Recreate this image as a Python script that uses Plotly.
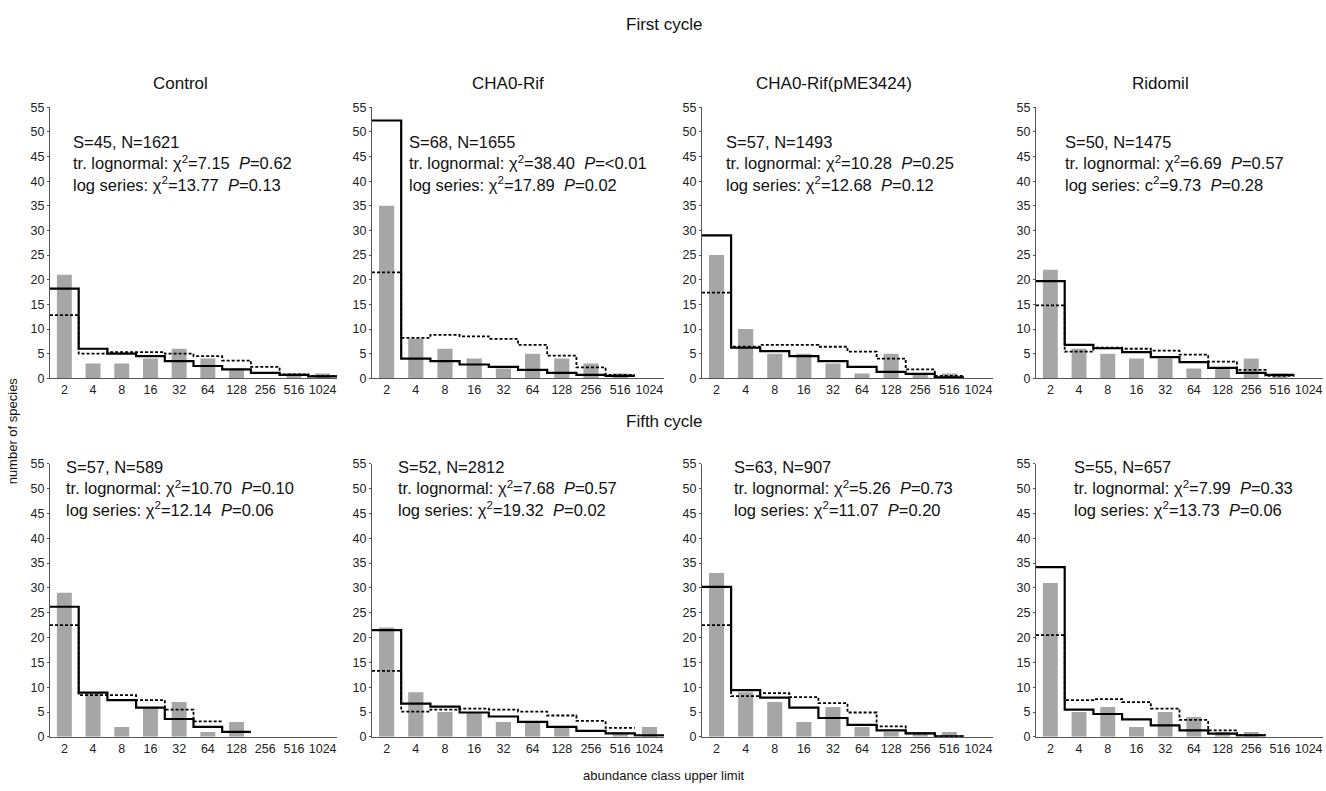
import plotly.graph_objects as go

W, H = 1326, 791

categories = ["2", "4", "8", "16", "32", "64", "128", "256", "516", "1024"]
treatments = ["Control", "CHA0-Rif", "CHA0-Rif(pME3424)", "Ridomil"]

# observed number of species per abundance class (grey bars)
obs_control_1 = [21, 3, 3, 4, 6, 4, 2, 0, 1, 1]
obs_cha0_1 = [35, 8, 6, 4, 2, 5, 4, 3, 1, 0]
obs_pme_1 = [25, 10, 5, 5, 3, 1, 5, 1, 1, 0]
obs_ridomil_1 = [22, 6, 5, 4, 4, 2, 2, 4, 1, 0]
obs_control_5 = [29, 9, 2, 6, 7, 1, 3, 0, 0, 0]
obs_cha0_5 = [22, 9, 5, 5, 3, 3, 2, 0, 1, 2]
obs_pme_5 = [33, 9, 7, 3, 6, 2, 1, 1, 1, 0]
obs_ridomil_5 = [31, 5, 6, 2, 5, 4, 1, 1, 0, 0]

# truncated lognormal fit (solid step line)
logn_control_1 = [18.2, 6.0, 5.0, 4.5, 3.5, 2.5, 1.8, 1.1, 0.7, 0.4]
logn_cha0_1 = [52.3, 4.0, 3.5, 2.8, 2.3, 1.7, 1.1, 0.7, 0.5]
logn_pme_1 = [29.0, 6.2, 5.5, 4.5, 3.5, 2.3, 1.3, 0.9, 0.2]
logn_ridomil_1 = [19.7, 6.8, 6.1, 5.3, 4.3, 3.3, 2.1, 1.1, 0.7]
logn_control_5 = [26.2, 8.9, 7.4, 5.9, 3.6, 2.0, 1.0]
logn_cha0_5 = [21.5, 6.7, 6.1, 4.9, 4.1, 3.0, 2.0, 1.2, 0.7, 0.3]
logn_pme_5 = [30.2, 9.4, 7.9, 5.9, 3.8, 2.4, 1.3, 0.7, 0.1]
logn_ridomil_5 = [34.2, 5.5, 4.6, 3.5, 2.3, 1.3, 0.65, 0.3]

# log series fit (dashed step line)
logs_control_1 = [12.8, 5.0, 5.3, 5.3, 5.0, 4.5, 3.6, 2.3, 0.8, 0.5]
logs_cha0_1 = [21.5, 8.2, 8.8, 8.5, 8.0, 6.8, 4.6, 2.2, 0.7]
logs_pme_1 = [17.4, 6.4, 6.8, 6.8, 6.4, 5.4, 4.0, 1.8, 0.5]
logs_ridomil_1 = [14.8, 5.4, 6.2, 6.0, 5.6, 4.8, 3.4, 1.7, 0.5]
logs_control_5 = [22.5, 8.4, 8.4, 7.4, 5.5, 3.1]
logs_cha0_5 = [13.3, 5.1, 5.5, 5.7, 5.5, 5.1, 4.3, 3.2, 1.8]
logs_pme_5 = [22.5, 8.2, 8.8, 8.0, 6.8, 4.9, 2.1, 0.7, 0.1]
logs_ridomil_5 = [20.5, 7.4, 7.6, 7.0, 5.7, 3.4, 1.3, 0.4]

# panel statistics text
S_N = ["S=45, N=1621", "S=68, N=1655", "S=57, N=1493", "S=50, N=1475",
       "S=57, N=589", "S=52, N=2812", "S=63, N=907", "S=55, N=657"]
lognormal_chi = ["7.15", "38.40", "10.28", "6.69", "10.70", "7.68", "5.26", "7.99"]
lognormal_p = ["0.62", "<0.01", "0.25", "0.57", "0.10", "0.57", "0.73", "0.33"]
logseries_sym = ["χ", "χ", "χ", "c", "χ", "χ", "χ", "χ"]
logseries_chi = ["13.77", "17.89", "12.68", "9.73", "12.14", "19.32", "11.07", "13.73"]
logseries_p = ["0.13", "0.02", "0.12", "0.28", "0.06", "0.02", "0.20", "0.06"]

observed = [obs_control_1, obs_cha0_1, obs_pme_1, obs_ridomil_1,
            obs_control_5, obs_cha0_5, obs_pme_5, obs_ridomil_5]
lognormal = [logn_control_1, logn_cha0_1, logn_pme_1, logn_ridomil_1,
             logn_control_5, logn_cha0_5, logn_pme_5, logn_ridomil_5]
logseries = [logs_control_1, logs_cha0_1, logs_pme_1, logs_ridomil_1,
             logs_control_5, logs_cha0_5, logs_pme_5, logs_ridomil_5]

# layout in pixels
col_px = [(50, 337), (372, 664), (702, 993), (1036, 1323)]
row_px = [(102, 378), (465, 743)]   # (top=55, bottom=0)
text_x = [71, 407, 724, 1063, 64, 396, 732, 1072]
text_mid = [159, 490]

FONT = "Liberation Sans, Arial, sans-serif"
fig = go.Figure()
annotations = []

for k in range(8):
    r, c = divmod(k, 4)
    ax = "" if k == 0 else str(k + 1)
    xref, yref = "x" + ax, "y" + ax
    xs = list(range(len(categories)))
    fig.add_trace(go.Bar(x=xs, y=observed[k], width=0.52, marker_color="#a6a6a6",
                         marker_line_width=0, xaxis=xref, yaxis=yref, showlegend=False))
    for vals, dash, wdt in [(logseries[k], "3px,2px", 1.8), (lognormal[k], "solid", 2.2)]:
        sx = [i - 0.5 for i in range(len(vals) + 1)]
        sy = list(vals) + [vals[-1]]
        fig.add_trace(go.Scatter(x=sx, y=sy, mode="lines", line_shape="hv",
                                 line=dict(color="black", width=wdt, dash=dash),
                                 xaxis=xref, yaxis=yref, showlegend=False))
    x0, x1 = col_px[c]
    y0, y1 = row_px[r]
    fig.layout["xaxis" + ax] = dict(
        domain=[x0 / W, x1 / W], range=[-0.5, 9.5], anchor=yref,
        tickmode="array", tickvals=xs, ticktext=categories, ticks="",
        showline=True, linecolor="#555", linewidth=1.2, showgrid=False, zeroline=False,
        tickfont=dict(family=FONT, size=12.5, color="#222"), fixedrange=True)
    fig.layout["yaxis" + ax] = dict(
        domain=[1 - y1 / H, 1 - y0 / H], range=[0, 55], anchor=xref,
        tickmode="array", tickvals=list(range(0, 56, 5)), ticks="outside", ticklen=2,
        tickcolor="#555", showline=True, linecolor="#555", linewidth=1.2,
        showgrid=False, zeroline=False,
        tickfont=dict(family=FONT, size=12.5, color="#222"), fixedrange=True)
    text = "<br>".join([
        S_N[k],
        "tr. lognormal: χ<sup>2</sup>=" + lognormal_chi[k] + "\u00a0\u00a0<i>P</i>=" + lognormal_p[k],
        "log series: " + logseries_sym[k] + "<sup>2</sup>=" + logseries_chi[k] + "\u00a0\u00a0<i>P</i>=" + logseries_p[k],
    ])
    annotations.append(dict(x=text_x[k] / W, y=1 - text_mid[r] / H,
                            xref="paper", yref="paper", xanchor="left", yanchor="middle",
                            align="left", text=text, showarrow=False,
                            font=dict(family=FONT, size=16.5, color="#111")))

title_x = [180, 508, 834, 1160]
for c, name in enumerate(treatments):
    annotations.append(dict(x=title_x[c] / W, y=1 - 78 / H, xref="paper", yref="paper",
                            text=name, showarrow=False, xanchor="center", yanchor="middle",
                            font=dict(family=FONT, size=17, color="#111")))
annotations.append(dict(x=664 / W, y=1 - 18 / H, xref="paper", yref="paper", text="First cycle",
                        showarrow=False, xanchor="center", yanchor="middle",
                        font=dict(family=FONT, size=17, color="#111")))
annotations.append(dict(x=664 / W, y=1 - 422 / H, xref="paper", yref="paper", text="Fifth cycle",
                        showarrow=False, xanchor="center", yanchor="middle",
                        font=dict(family=FONT, size=17, color="#111")))
annotations.append(dict(x=12 / W, y=1 - 432 / H, xref="paper", yref="paper", text="number of species",
                        showarrow=False, textangle=-90, xanchor="center", yanchor="middle",
                        font=dict(family=FONT, size=13, color="#111")))
annotations.append(dict(x=664 / W, y=1 - 782 / H, xref="paper", yref="paper",
                        text="abundance class upper limit", showarrow=False,
                        xanchor="center", yanchor="middle",
                        font=dict(family=FONT, size=13, color="#111")))

fig.update_layout(width=W, height=H, margin=dict(l=0, r=0, t=0, b=0),
                  paper_bgcolor="white", plot_bgcolor="white", barmode="overlay",
                  annotations=annotations, showlegend=False)
fig.write_html("out.html")
